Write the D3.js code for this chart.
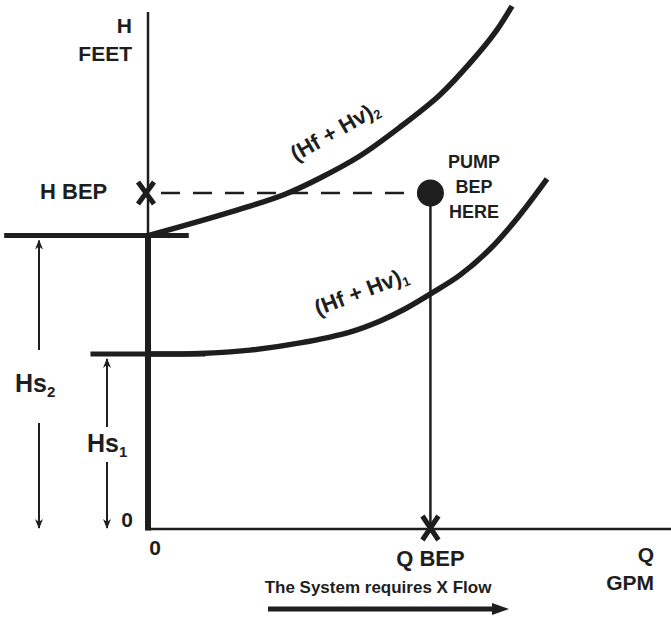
<!DOCTYPE html>
<html>
<head>
<meta charset="utf-8">
<script src="https://cdn.jsdelivr.net/npm/d3@7"></script>
<style>
  html, body { margin: 0; padding: 0; background: #fff; }
  svg { display: block; }
  text { font-family: "Liberation Sans", Arial, Helvetica, sans-serif; font-weight: bold; fill: #1e1e1e; }
</style>
</head>
<body>
<script>
// System head curves: flow (GPM) vs total head (feet)
const flow1 = [0, 99, 195, 291, 386, 444, 491, 543, 597, 654, 708, 763];
const head1 = [67.7, 67.9, 69.2, 72.0, 76.2, 80.5, 85.1, 91.3, 98.3, 108.3, 120.7, 135.4];
const flow2 = [0, 99, 195, 262, 329, 405, 482, 558, 616, 663, 696];
const head2 = [113.5, 119.1, 124.9, 129.5, 135.8, 144.3, 155.5, 167.9, 180.3, 191.9, 202.3];

// Static heads and the pump best efficiency point
const staticHeads = [67.7, 113.5];          // Hs1, Hs2
const staticLabels = ["1", "2"];
const bepFlow = 540;
const bepHead = 130;
const curveLabels = ["(Hf + Hv)", "(Hf + Hv)"];
const curveSubs = ["1", "2"];
const zeroLabel = "0";

const W = 671, H = 618;
const ink = "#1e1e1e";

const svg = d3.select("body").append("svg")
  .attr("width", W).attr("height", H);
svg.append("rect").attr("width", W).attr("height", H).attr("fill", "#fff");

const x = d3.scaleLinear().domain([0, 1000]).range([148, 671]);
const y = d3.scaleLinear().domain([0, 200]).range([529, 12]);

// Axes: thin head axis above the static head, thick below it
svg.append("line")
  .attr("x1", x(0)).attr("x2", x(0))
  .attr("y1", y(200)).attr("y2", y(staticHeads[1]))
  .attr("stroke", ink).attr("stroke-width", 2.5);
svg.append("line")
  .attr("x1", x(0)).attr("x2", x(0))
  .attr("y1", y(staticHeads[1])).attr("y2", y(0) + 1.5)
  .attr("stroke", ink).attr("stroke-width", 6);
svg.append("line")
  .attr("x1", x(0) - 1).attr("x2", x(1000))
  .attr("y1", y(0)).attr("y2", y(0))
  .attr("stroke", ink).attr("stroke-width", 2.5);

// Static head levels
const levelExtents = [[-110, 110], [-275, 78]];
staticHeads.forEach((h, i) => {
  svg.append("line")
    .attr("x1", x(levelExtents[i][0])).attr("x2", x(levelExtents[i][1]))
    .attr("y1", y(h)).attr("y2", y(h))
    .attr("stroke", ink).attr("stroke-width", 5);
});

// System curves
const line = d3.line().x(d => x(d[0])).y(d => y(d[1])).curve(d3.curveCatmullRom.alpha(0.5));
[[flow1, head1], [flow2, head2]].forEach(([f, h]) => {
  svg.append("path")
    .datum(f.map((q, i) => [q, h[i]]))
    .attr("d", line)
    .attr("fill", "none")
    .attr("stroke", ink)
    .attr("stroke-width", 5.5)
    .attr("stroke-linecap", "butt");
});

// BEP guide lines
svg.append("line")
  .attr("x1", x(0) + 13).attr("x2", x(bepFlow) - 12)
  .attr("y1", y(bepHead)).attr("y2", y(bepHead))
  .attr("stroke", ink).attr("stroke-width", 2.5)
  .attr("stroke-dasharray", "19,13");
svg.append("line")
  .attr("x1", x(bepFlow)).attr("x2", x(bepFlow))
  .attr("y1", y(bepHead)).attr("y2", y(0))
  .attr("stroke", ink).attr("stroke-width", 2.5);
svg.append("circle")
  .attr("cx", x(bepFlow)).attr("cy", y(bepHead)).attr("r", 13.5)
  .attr("fill", ink);

// X markers on each axis
function cross(cx, cy, hw, hh) {
  svg.append("path")
    .attr("d", `M${cx - hw},${cy - hh}L${cx + hw},${cy + hh}M${cx + hw},${cy - hh}L${cx - hw},${cy + hh}`)
    .attr("stroke", ink).attr("stroke-width", 5).attr("fill", "none");
}
cross(x(0) - 2, y(bepHead), 8, 11);
cross(x(bepFlow), y(0) - 1, 8, 12);

// Static head dimension arrows
const defs = svg.append("defs");
defs.append("marker")
  .attr("id", "tip").attr("viewBox", "0 0 10 10")
  .attr("refX", 9).attr("refY", 5)
  .attr("markerWidth", 10).attr("markerHeight", 10)
  .attr("markerUnits", "userSpaceOnUse")
  .attr("orient", "auto")
  .append("path").attr("d", "M0,1L10,5L0,9L3,5Z").attr("fill", ink);

const dims = [
  { xPos: 107, gapTop: 427, gapBot: 462, labelX: 87, labelY: 452 },
  { xPos: 39, gapTop: 350, gapBot: 423, labelX: 15, labelY: 392 }
];
staticHeads.forEach((h, i) => {
  const d = dims[i];
  svg.append("line")
    .attr("x1", d.xPos).attr("x2", d.xPos)
    .attr("y1", d.gapTop).attr("y2", y(h) + 5)
    .attr("stroke", ink).attr("stroke-width", 2)
    .attr("marker-end", "url(#tip)");
  svg.append("line")
    .attr("x1", d.xPos).attr("x2", d.xPos)
    .attr("y1", d.gapBot).attr("y2", y(0) - 1)
    .attr("stroke", ink).attr("stroke-width", 2)
    .attr("marker-end", "url(#tip)");
  const t = svg.append("text")
    .attr("x", d.labelX).attr("y", d.labelY)
    .attr("font-size", 25);
  t.append("tspan").text("Hs");
  t.append("tspan").attr("font-size", 15).attr("dy", 5).text(staticLabels[i]);
});

// Curve labels set along each curve
const curveLabelPos = [
  { px: 318, py: 316, rot: -21 },
  { px: 296, py: 162, rot: -30 }
];
curveLabels.forEach((lab, i) => {
  const p = curveLabelPos[i];
  const t = svg.append("text")
    .attr("transform", `translate(${p.px},${p.py}) rotate(${p.rot})`)
    .attr("font-size", 22);
  t.append("tspan").text(lab);
  t.append("tspan").attr("font-size", 13).attr("dy", 4).text(curveSubs[i]);
});

// Axis titles and markers
svg.append("text").attr("x", 132).attr("y", 33).attr("text-anchor", "end")
  .attr("font-size", 21).text("H");
svg.append("text").attr("x", 132).attr("y", 61).attr("text-anchor", "end")
  .attr("font-size", 21).text("FEET");
svg.append("text").attr("x", 40).attr("y", 199)
  .attr("font-size", 22).text("H BEP");
svg.append("text").attr("x", 133).attr("y", 527).attr("text-anchor", "end")
  .attr("font-size", 21).text(zeroLabel);
svg.append("text").attr("x", 155).attr("y", 555).attr("text-anchor", "middle")
  .attr("font-size", 21).text(zeroLabel);
svg.append("text").attr("x", x(bepFlow)).attr("y", 566).attr("text-anchor", "middle")
  .attr("font-size", 22).text("Q BEP");
svg.append("text").attr("x", 654).attr("y", 562).attr("text-anchor", "end")
  .attr("font-size", 21).text("Q");
svg.append("text").attr("x", 654).attr("y", 590).attr("text-anchor", "end")
  .attr("font-size", 21).text("GPM");

// Pump BEP annotation
["PUMP", "BEP", "HERE"].forEach((s, i) => {
  svg.append("text").attr("x", 474).attr("y", 168 + i * 25)
    .attr("text-anchor", "middle").attr("font-size", 18).text(s);
});

// Flow direction note
svg.append("text").attr("x", 378).attr("y", 593).attr("text-anchor", "middle")
  .attr("font-size", 17).text("The System requires X Flow");
svg.append("line")
  .attr("x1", 268).attr("x2", 500)
  .attr("y1", 609).attr("y2", 609)
  .attr("stroke", ink).attr("stroke-width", 5);
svg.append("path")
  .attr("d", "M492,603L509,609L492,615Z")
  .attr("fill", ink);
</script>
</body>
</html>
